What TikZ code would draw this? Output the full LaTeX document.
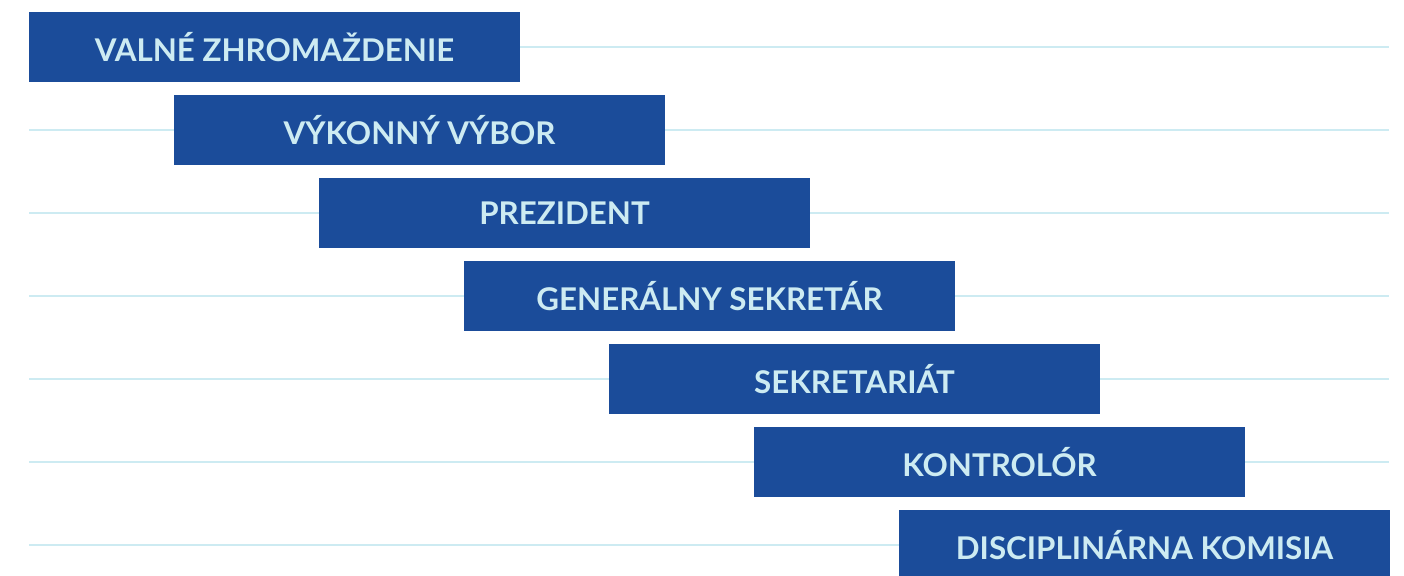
\documentclass[tikz,border=0pt]{standalone}
\usepackage{fontspec}
\setmainfont{Lato}
\definecolor{boxblue}{HTML}{1B4C9A}
\definecolor{paleblue}{HTML}{CDEBF2}
\begin{document}
\begin{tikzpicture}[x=1pt, y=-1pt,
  organ/.style={fill=boxblue, text=paleblue, minimum width=491pt, minimum height=70pt,
    inner sep=0pt, font=\bfseries\fontsize{31.3}{32}\selectfont}]
\useasboundingbox (0,0) rectangle (1404,575);
\foreach \y in {47,130,...,545}
  \draw[paleblue, line width=2.8pt] (29,\y) -- (1389,\y);
\foreach \n/\t in {0/VALNÉ ZHROMAŽDENIE, 1/VÝKONNÝ VÝBOR, 2/PREZIDENT,
    3/GENERÁLNY SEKRETÁR, 4/SEKRETARIÁT, 5/KONTROLÓR, 6/DISCIPLINÁRNA KOMISIA}
  \node[organ] (organ\n) at (274.5+145*\n, 47+83*\n) {\t};
\end{tikzpicture}
\end{document}
